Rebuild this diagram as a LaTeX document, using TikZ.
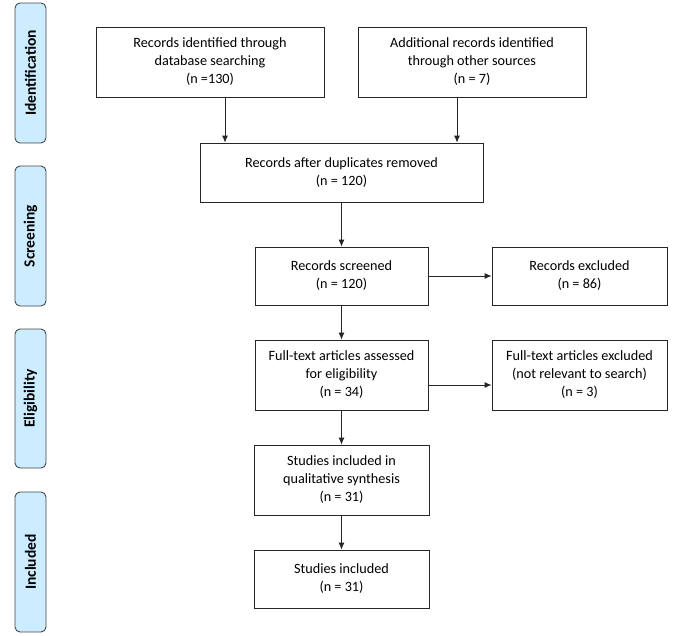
\documentclass[tikz,border=0pt]{standalone}
\usepackage{fontspec}
\setmainfont{Carlito}
\usetikzlibrary{arrows.meta}
\definecolor{sidefill}{RGB}{204,236,255}
\definecolor{sideedge}{RGB}{70,70,70}
\tikzset{
  x=1pt, y=-1pt,
  box/.style={draw=black!85, line width=0.8pt, fill=white, align=center, inner sep=2pt,
    font=\fontsize{14.2}{18}\selectfont},
  sidelab/.style={draw=sideedge, line width=0.9pt, fill=sidefill, rounded corners=5pt,
    minimum width=31pt, inner sep=0pt},
  sidetext/.style={rotate=90, font=\fontsize{15.5}{18}\selectfont\bfseries},
  arr/.style={draw=black!85, line width=0.8pt, -{Latex[length=7pt,width=6pt]}}
}
\begin{document}
\begin{tikzpicture}
\useasboundingbox (0,0) rectangle (685,635);
% side labels
\node[sidelab, minimum height=140pt] (sid) at (30.5,73) {};
\node[sidetext] (tid) at (sid) {Identification};
\node[sidelab, minimum height=140pt] (sscr) at (30.5,236) {};
\node[sidetext] (tscr) at (sscr) {Screening};
\node[sidelab, minimum height=139pt] (sel) at (30.5,398.5) {};
\node[sidetext] (tel) at (sel) {Eligibility};
\node[sidelab, minimum height=140pt] (sinc) at (30.5,562) {};
\node[sidetext] (tinc) at (sinc) {Included};
% boxes
\node[box, minimum width=228pt, minimum height=70pt] (b1) at (210,62)
  {Records identified through\\database searching\\(n =130)};
\node[box, minimum width=228pt, minimum height=70pt] (b2) at (472,62)
  {Additional records identified\\through other sources\\(n = 7)};
\node[box, minimum width=283pt, minimum height=59pt] (b3) at (341.5,172.5)
  {Records after duplicates removed\\(n = 120)};
\node[box, minimum width=173pt, minimum height=58pt] (b4) at (341.5,276)
  {Records screened\\(n = 120)};
\node[box, minimum width=175pt, minimum height=58pt] (b5) at (579.5,276)
  {Records excluded\\(n = 86)};
\node[box, minimum width=173pt, minimum height=70pt] (b6) at (341.5,375)
  {Full-text articles assessed\\for eligibility\\(n = 34)};
\node[box, minimum width=175pt, minimum height=70pt] (b7) at (579.5,375)
  {Full-text articles excluded\\(not relevant to search)\\(n = 3)};
\node[box, minimum width=175pt, minimum height=70pt] (b8) at (341.5,480)
  {Studies included in\\qualitative synthesis\\(n = 31)};
\node[box, minimum width=175pt, minimum height=58pt] (b9) at (341.5,579)
  {Studies included\\(n = 31)};
% connectors
\draw[arr] ([xshift=15pt]b1.south) -- ([xshift=15pt]b1.south |- b3.north);
\draw[arr] ([xshift=-15pt]b2.south) -- ([xshift=-15pt]b2.south |- b3.north);
\draw[arr] (b3.south -| b4.north) -- (b4.north);
\draw[arr] (b4.east) -- (b4.east -| b5.west);
\draw[arr] (b4.south) -- (b6.north);
\draw[arr] ([yshift=-10pt]b6.east) -- ([yshift=-10pt]b6.east -| b7.west);
\draw[arr] (b6.south) -- (b8.north);
\draw[arr] (b8.south) -- (b9.north);
\end{tikzpicture}
\end{document}
